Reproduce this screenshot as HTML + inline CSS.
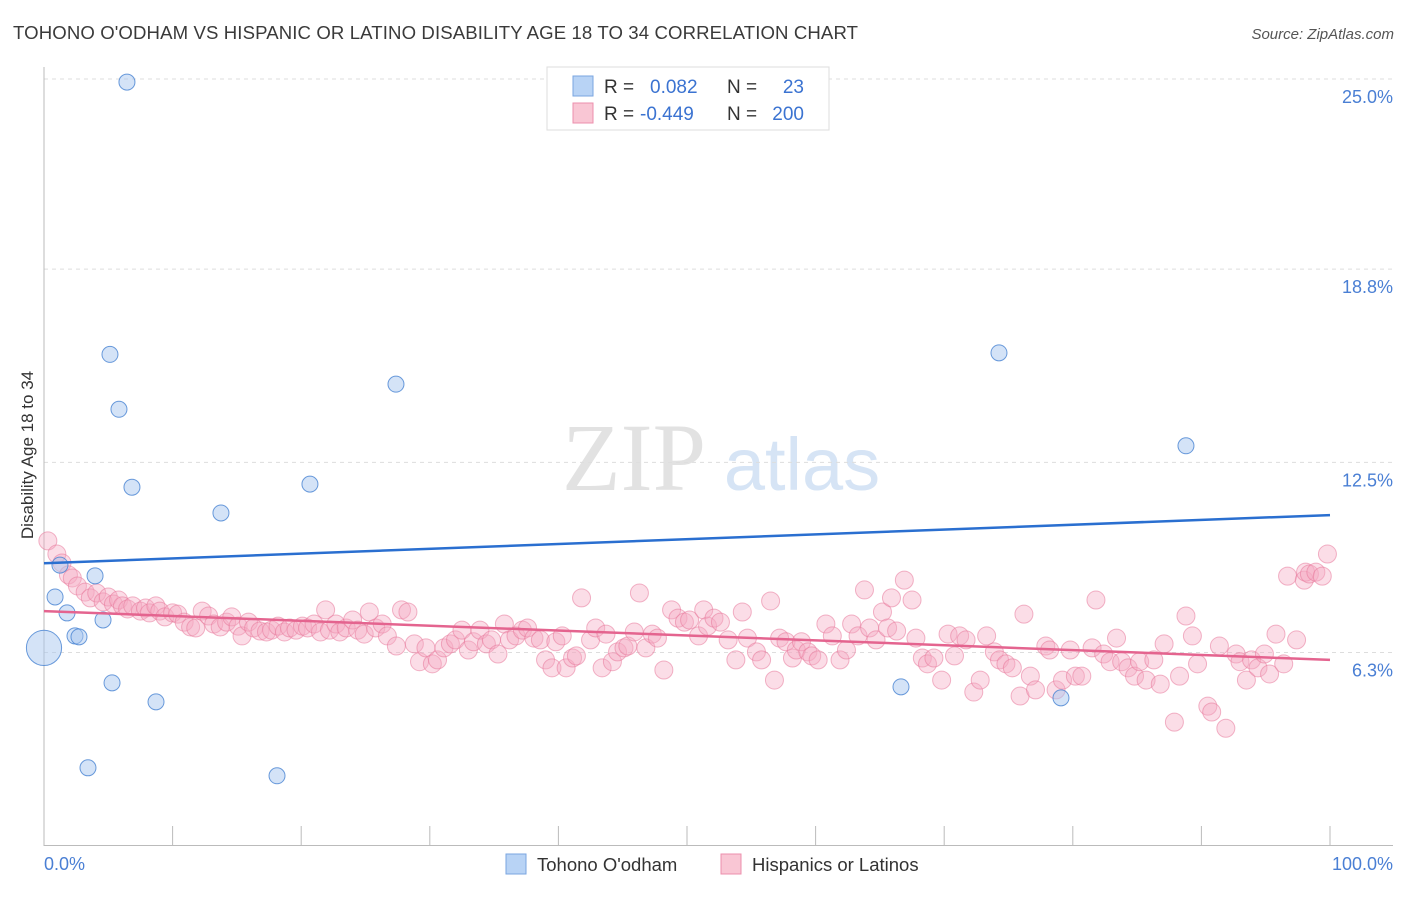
<!DOCTYPE html>
<html><head><meta charset="utf-8"><style>
body{margin:0;background:#fff;font-family:"Liberation Sans",sans-serif;}
</style></head><body>
<svg id="chart" width="1406" height="892" xmlns="http://www.w3.org/2000/svg" font-family="Liberation Sans, sans-serif">
<text x="13" y="39" font-size="18.6" fill="#3a3a3a" textLength="845">TOHONO O'ODHAM VS HISPANIC OR LATINO DISABILITY AGE 18 TO 34 CORRELATION CHART</text>
<text x="1394" y="39" font-size="15" fill="#555" text-anchor="end" font-style="italic">Source: ZipAtlas.com</text>
<g><text x="634" y="490" font-size="96" fill="#e2e2e2" font-family="Liberation Serif, serif" text-anchor="middle">ZIP</text><text x="802" y="490" font-size="74" fill="#d6e4f5" text-anchor="middle">atlas</text></g>
<g id="grid"></g><g id="axes"></g><g id="pts"></g><g id="trends"></g>
<text transform="translate(33,455) rotate(-90)" font-size="17" fill="#333" text-anchor="middle">Disability Age 18 to 34</text>
<text x="44" y="870" font-size="18" fill="#4a7fd4">0.0%</text>
<text x="1393" y="870" font-size="18" fill="#4a7fd4" text-anchor="end">100.0%</text>
<g>
<rect x="547" y="67" width="282" height="63" fill="#fff" stroke="#ddd"/>
<rect x="573" y="76" width="20" height="20" fill="#b8d3f5" stroke="#7aa6e0"/>
<rect x="573" y="103" width="20" height="20" fill="#f9c6d4" stroke="#ec8fac"/>
<text x="604" y="93" font-size="19" fill="#333">R =</text><text x="650" y="93" font-size="19" fill="#3b73d1">0.082</text>
<text x="727" y="93" font-size="19" fill="#333">N =</text><text x="804" y="93" font-size="19" fill="#3b73d1" text-anchor="end">23</text>
<text x="604" y="120" font-size="19" fill="#333">R =</text><text x="640" y="120" font-size="19" fill="#3b73d1">-0.449</text>
<text x="727" y="120" font-size="19" fill="#333">N =</text><text x="804" y="120" font-size="19" fill="#3b73d1" text-anchor="end">200</text>
</g>
<g><rect x="506" y="854" width="20" height="20" fill="#b8d3f5" stroke="#7aa6e0"/><text x="537" y="871" font-size="18.5" fill="#333">Tohono O'odham</text></g>
<g><rect x="721" y="854" width="20" height="20" fill="#f9c6d4" stroke="#ec8fac"/><text x="752" y="871" font-size="18.5" fill="#333">Hispanics or Latinos</text></g>
</svg>
<script>
const yTicks=[25.0,18.8,12.5,6.3];
const yTickLabels=["25.0%","18.8%","12.5%","6.3%"];
const xTicks=[0,10,20,30,40,50,60,70,80,90,100];
const blueX=[6.45,5.13,5.83,6.84,13.76,20.68,27.37,74.26,88.8,0.86,1.24,1.79,3.97,2.41,2.72,4.59,0,5.29,8.71,3.42,18.12,66.64,79.08];
const blueY=[24.9,16.02,14.23,11.69,10.85,11.79,15.05,16.07,13.04,8.11,9.15,7.59,8.8,6.84,6.81,7.36,6.45,5.31,4.69,2.54,2.28,5.18,4.82];
const blueSize=[1,1,1,1,1,1,1,1,1,1,1,1,1,1,1,1,2.2,1,1,1,1,1,1];
const pinkX=[0.3,1.0,1.4,1.9,2.2,2.6,3.2,3.6,4.1,4.6,5.0,5.4,5.8,6.1,6.5,6.9,7.5,7.9,8.2,8.7,9.0,9.4,10.0,10.4,10.9,11.4,11.8,12.3,12.8,13.2,13.7,14.2,14.6,15.1,15.4,15.9,16.3,16.8,17.3,17.7,18.2,18.7,19.1,19.6,20.1,20.5,21.0,21.5,21.9,22.2,22.7,23.0,23.5,24.0,24.4,24.9,25.3,25.8,26.3,26.7,27.4,27.8,28.3,28.8,29.2,29.7,30.2,30.6,31.1,31.6,32.0,32.5,33.0,33.4,33.9,34.4,34.8,35.3,35.8,36.2,36.7,37.2,37.6,38.1,38.6,39.0,39.5,39.8,40.3,40.6,41.1,41.4,41.8,42.5,42.9,43.4,43.7,44.2,44.6,45.1,45.4,45.9,46.3,46.8,47.3,47.7,48.2,48.8,49.3,49.8,50.2,50.9,51.3,51.6,52.1,52.6,53.2,53.8,54.3,54.7,55.4,55.8,56.5,56.8,57.2,57.7,58.2,58.5,58.9,59.4,59.7,60.2,60.8,61.3,61.9,62.4,62.8,63.3,63.8,64.2,64.7,65.2,65.6,65.9,66.3,66.9,67.5,67.8,68.3,68.7,69.2,69.8,70.3,70.8,71.2,71.7,72.3,72.8,73.3,73.9,74.3,74.8,75.3,75.9,76.2,76.7,77.1,77.9,78.2,78.7,79.2,79.8,80.2,80.7,81.5,81.8,82.4,82.9,83.4,83.8,84.3,84.8,85.2,85.7,86.3,86.8,87.1,87.9,88.3,88.8,89.3,89.7,90.5,90.8,91.4,91.9,92.7,93.0,93.5,93.9,94.4,94.9,95.3,95.8,96.4,96.7,97.4,98.0,98.1,98.4,98.9,99.4,99.8];
const pinkY=[9.94,9.51,9.22,8.83,8.73,8.47,8.27,8.08,8.24,7.95,8.11,7.88,8.01,7.82,7.72,7.82,7.65,7.75,7.59,7.82,7.65,7.46,7.59,7.55,7.29,7.13,7.1,7.65,7.49,7.23,7.13,7.29,7.46,7.16,6.84,7.29,7.1,7.0,6.97,7.03,7.16,6.97,7.1,7.03,7.16,7.1,7.23,6.97,7.69,7.03,7.23,6.97,7.1,7.36,7.03,6.9,7.62,7.1,7.23,6.84,6.51,7.69,7.62,6.58,6.0,6.45,5.93,6.06,6.45,6.58,6.71,7.03,6.38,6.65,7.03,6.58,6.71,6.25,7.23,6.71,6.84,7.03,7.1,6.77,6.71,6.06,5.8,6.65,6.84,5.8,6.12,6.19,8.08,6.71,7.1,5.8,6.9,6.0,6.32,6.45,6.51,6.97,8.24,6.45,6.9,6.77,5.73,7.69,7.42,7.29,7.36,6.84,7.69,7.16,7.42,7.29,6.71,6.06,7.62,6.77,6.32,6.06,7.98,5.4,6.77,6.65,6.12,6.38,6.65,6.32,6.19,6.06,7.23,6.84,6.06,6.38,7.23,6.84,8.34,7.1,6.71,7.62,7.1,8.08,7.0,8.66,8.01,6.77,6.12,5.93,6.12,5.4,6.9,6.19,6.84,6.71,5.01,5.4,6.84,6.32,6.06,5.93,5.8,4.88,7.55,5.53,5.08,6.51,6.38,5.08,5.4,6.38,5.53,5.53,6.45,8.01,6.25,6.0,6.77,6.0,5.8,5.53,6.0,5.4,6.06,5.27,6.58,4.03,5.53,7.49,6.84,5.93,4.55,4.36,6.51,3.83,6.25,6.0,5.4,6.06,5.8,6.25,5.6,6.9,5.93,8.79,6.71,8.66,8.92,8.86,8.92,8.79,9.51];
const blueTrend=[9.21,10.78];
const pinkTrend=[7.65,6.06];
const NS="http://www.w3.org/2000/svg";
const X0=44,X1=1330,YB=845.7,YT=79;
function sx(v){return X0+(X1-X0)*v/100;}
function sy(v){return YB-(YB-YT)*v/25;}
function mk(tag,attrs,parent){const e=document.createElementNS(NS,tag);for(const k in attrs)e.setAttribute(k,attrs[k]);parent.appendChild(e);return e;}
const grid=document.getElementById('grid'),axes=document.getElementById('axes'),pts=document.getElementById('pts'),tr=document.getElementById('trends');
yTicks.forEach((t,i)=>{
 const l=mk('line',{x1:44,x2:1393,y1:sy(t),y2:sy(t),stroke:'#ddd','stroke-dasharray':'4,4'},grid);
 
 
 const tx=mk('text',{x:1393,y:sy(t)+24,'font-size':18,fill:'#4a7fd4','text-anchor':'end'},grid);
 tx.textContent=yTickLabels[i];
 
 
});
const ya=mk('line',{x1:44,x2:44,y1:67,y2:846,stroke:'#bbb'},axes);


const xa=mk('line',{x1:44,x2:1393,y1:845.5,y2:845.5,stroke:'#bbb'},axes);


xTicks.forEach(t=>{
 const k=mk('line',{x1:sx(t),x2:sx(t),y1:826,y2:846,stroke:'#bbb'},axes);
 
 
});
pinkX.forEach((x,i)=>{
 const c=mk('circle',{cx:sx(x),cy:sy(pinkY[i]),r:9,fill:'rgba(246,170,194,0.4)',stroke:'rgba(232,120,155,0.55)','stroke-width':1},pts);
 
 
});
blueX.forEach((x,i)=>{
 const c=mk('circle',{cx:sx(x),cy:sy(blueY[i]),r:8*blueSize[i],fill:'rgba(170,200,240,0.5)',stroke:'rgba(70,130,210,0.8)','stroke-width':1},pts);
 
 
});
const bl=mk('line',{x1:sx(0),x2:sx(100),y1:sy(blueTrend[0]),y2:sy(blueTrend[1]),stroke:'#2a6fd0','stroke-width':2.5},tr);


const pl=mk('line',{x1:sx(0),x2:sx(100),y1:sy(pinkTrend[0]),y2:sy(pinkTrend[1]),stroke:'#e4648f','stroke-width':2.5},tr);


</script>
</body></html>
